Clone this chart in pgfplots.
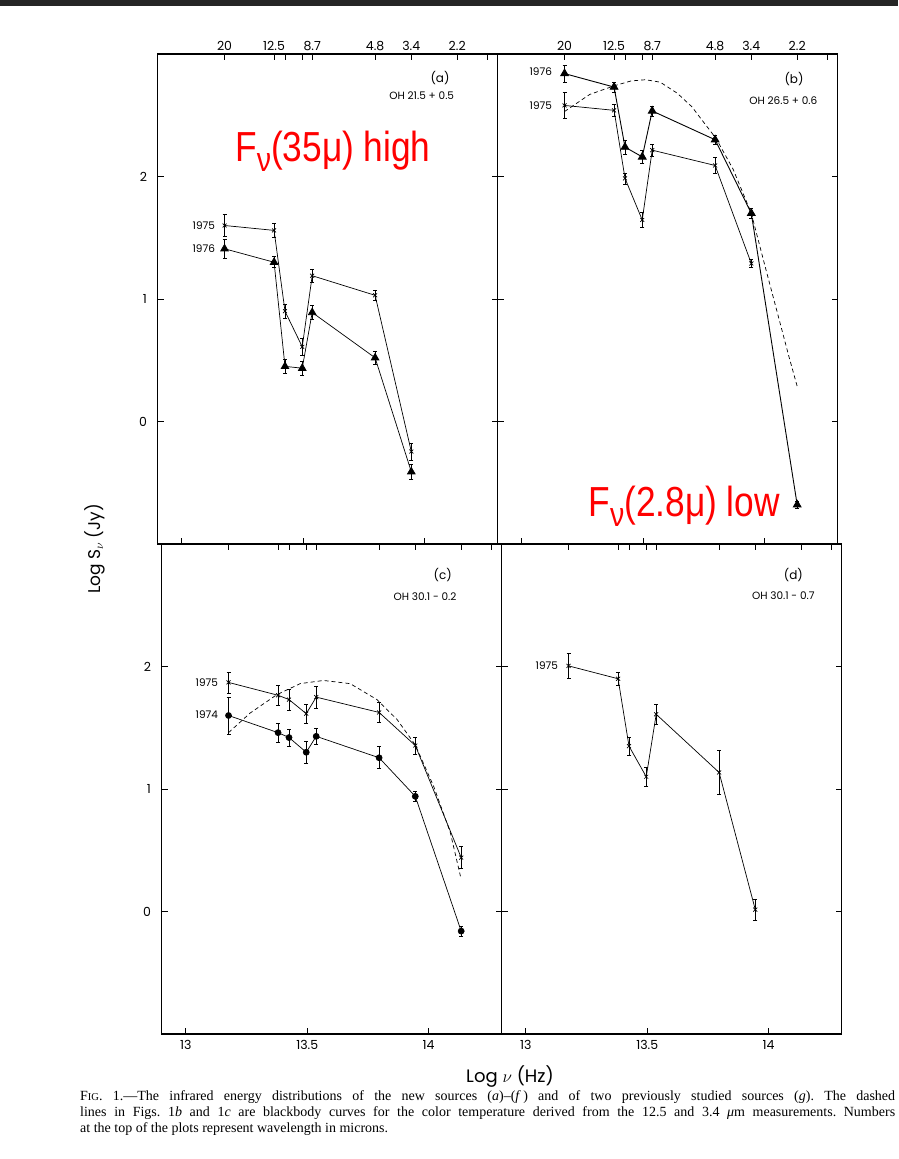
\documentclass[border=0pt]{standalone}
\usepackage{graphicx}
\usepackage{pgfplots}
\usepackage{pgfplotstable}
\pgfplotsset{compat=1.18}
\usepackage{fontspec}
\setmainfont{Poppins}
\newfontfamily\capfont[Ligatures=TeX]{Liberation Serif}
\newfontfamily\redfont{Liberation Sans}

% wavelength positions: 20, 12.5, 11.3, 9.6, 8.7, 4.8, 3.4, 2.2 micron -> log nu
\pgfplotstableread{
x y e
13.176 1.60 0.09
13.380 1.56 0.055
13.425 0.90 0.06
13.496 0.61 0.07
13.537 1.19 0.05
13.796 1.03 0.04
13.945 -0.245 0.07
}\Aseventyfive
\pgfplotstableread{
x y e
13.176 1.41 0.075
13.380 1.30 0.045
13.425 0.45 0.06
13.496 0.435 0.055
13.537 0.89 0.055
13.796 0.52 0.05
13.945 -0.41 0.06
}\Aseventysix
\pgfplotstableread{
x y e
13.176 2.84 0.07
13.380 2.73 0.04
13.425 2.24 0.055
13.496 2.16 0.05
13.537 2.535 0.04
13.796 2.30 0.04
13.945 1.70 0.04
14.134 -0.68 0.03
}\Bseventysix
\pgfplotstableread{
x y e
13.176 2.58 0.105
13.380 2.54 0.05
13.425 1.985 0.045
13.496 1.645 0.06
13.537 2.215 0.05
13.796 2.09 0.065
13.945 1.29 0.035
}\Bseventyfive
\pgfplotstableread{
x y
13.176 2.53
13.22 2.59
13.28 2.67
13.38 2.74
13.45 2.78
13.51 2.79
13.57 2.77
13.64 2.68
13.70 2.57
13.75 2.44
13.80 2.31
13.87 2.06
13.945 1.70
14.00 1.28
14.06 0.83
14.10 0.53
14.135 0.28
}\Bbb
\pgfplotstableread{
x y e
13.176 1.87 0.085
13.380 1.765 0.08
13.425 1.73 0.085
13.496 1.615 0.08
13.537 1.75 0.09
13.796 1.625 0.08
13.945 1.355 0.07
14.134 0.44 0.09
}\Cseventyfive
\pgfplotstableread{
x y e
13.176 1.60 0.15
13.380 1.46 0.075
13.425 1.42 0.07
13.496 1.30 0.09
13.537 1.43 0.065
13.796 1.255 0.09
13.945 0.94 0.04
14.134 -0.16 0.04
}\Cseventyfour
\pgfplotstableread{
x y
13.176 1.46
13.265 1.62
13.375 1.77
13.471 1.86
13.567 1.886
13.677 1.86
13.787 1.73
13.870 1.567
13.945 1.36
14.021 1.02
14.089 0.646
14.131 0.288
}\Cbb
\pgfplotstableread{
x y e
13.176 2.005 0.105
13.380 1.90 0.055
13.425 1.35 0.075
13.496 1.10 0.08
13.537 1.61 0.085
13.796 1.135 0.18
13.945 0.015 0.085
}\Dseventyfive

\newcommand\yrfont{\fontsize{10.5}{10.5}\selectfont}
\newcommand\tlfont{\fontsize{12.5}{12.5}\selectfont}

\pgfplotsset{
  frm/.style={scale only axis, width=340pt, height=490pt,
    xmin=12.90, xmax=14.30, ymin=-1, ymax=3, clip=false, anchor=south west},
  panel/.style={frm,
    tick align=inside, major tick length=6pt,
    axis line style={line width=1.3pt},
    tick style={line width=0.9pt, black},
    xtick={13,13.5,14}, xtick pos=left,
    ytick={0,1,2}, ytick pos=both,
    tick label style={font=\tlfont},
    yticklabel style={xshift=-7pt},
    xticklabel style={yshift=-3pt},
  },
  wave/.style={frm,
    tick align=inside, major tick length=6pt,
    axis line style={draw=none},
    tick style={line width=0.9pt, black},
    xtick={13.176,13.380,13.425,13.496,13.537,13.796,13.945,14.134,14.259},
    xtick pos=right, xticklabel pos=right,
    ytick=\empty,
    tick label style={font=\tlfont},
  },
  ser/.style={black, line width=0.7pt, mark options={solid},
    error bars/y dir=both, error bars/y explicit,
    error bars/error mark=-,
    error bars/error bar style={line width=0.6pt},
    error bars/error mark options={rotate=90, mark size=2pt, line width=0.6pt, black}},
  xm/.style={ser, mark=x, mark size=2.8pt},
  tri/.style={ser, mark=triangle*, mark size=4.4pt},
  dotm/.style={ser, mark=*, mark size=3pt},
  bb/.style={black, line width=0.7pt, dash pattern=on 4pt off 3pt, no marks},
}

\begin{document}
\begin{tikzpicture}[x=1pt,y=1pt]
\useasboundingbox (0pt,0pt) rectangle (898pt,1159pt);
\fill[black!85] (0pt,1153pt) rectangle (898pt,1159pt);

% ---------- (a)
\begin{axis}[panel, at={(157.5pt,615pt)}, xticklabels={,,}, yticklabels={0,1,2}]
\addplot[xm] table[x=x,y=y,y error=e]{\Aseventyfive};
\addplot[tri] table[x=x,y=y,y error=e]{\Aseventysix};
\node[anchor=east, font=\yrfont, xshift=-6pt] at (axis cs:13.176,1.60) {1975};
\node[anchor=east, font=\yrfont, xshift=-6pt] at (axis cs:13.176,1.41) {1976};
\end{axis}
\begin{axis}[wave, at={(157.5pt,615pt)}, xticklabels={20,12.5,,,8.7,4.8,3.4,2.2,}]
\end{axis}

% ---------- (b)
\begin{axis}[panel, at={(497.5pt,615pt)}, xticklabels={,,}, yticklabels={,,}]
\addplot[bb] table[x=x,y=y]{\Bbb};
\addplot[xm] table[x=x,y=y,y error=e]{\Bseventyfive};
\addplot[tri, line width=0.9pt] table[x=x,y=y,y error=e]{\Bseventysix};
\node[anchor=east, font=\yrfont, xshift=-9pt] at (axis cs:13.176,2.86) {1976};
\node[anchor=east, font=\yrfont, xshift=-9pt] at (axis cs:13.176,2.58) {1975};
\end{axis}
\begin{axis}[wave, at={(497.5pt,615pt)}, xticklabels={20,12.5,,,8.7,4.8,3.4,2.2,}]
\end{axis}

% ---------- (c)
\begin{axis}[panel, at={(161.5pt,125pt)}, xticklabels={13,13.5,14}, yticklabels={0,1,2}]
\addplot[bb] table[x=x,y=y]{\Cbb};
\addplot[xm] table[x=x,y=y,y error=e]{\Cseventyfive};
\addplot[dotm] table[x=x,y=y,y error=e]{\Cseventyfour};
\node[anchor=east, font=\yrfont, xshift=-7pt] at (axis cs:13.176,1.87) {1975};
\node[anchor=east, font=\yrfont, xshift=-7pt] at (axis cs:13.176,1.61) {1974};
\end{axis}
\begin{axis}[wave, at={(161.5pt,125pt)}, xticklabels={,,,,,,,,}]
\end{axis}

% ---------- (d)
\begin{axis}[panel, at={(501.5pt,125pt)}, xticklabels={13,13.5,14}, yticklabels={,,}]
\addplot[xm] table[x=x,y=y,y error=e]{\Dseventyfive};
\node[anchor=east, font=\yrfont, xshift=-7pt] at (axis cs:13.176,2.005) {1975};
\end{axis}
\begin{axis}[wave, at={(501.5pt,125pt)}, xticklabels={,,,,,,,,}]
\end{axis}

% panel labels
\node[font=\fontsize{12}{12}\selectfont] at (440pt,1081pt) {(a)};
\node[font=\fontsize{10.5}{10.5}\selectfont] at (421.7pt,1063.3pt) {OH 21.5 + 0.5};
\node[font=\fontsize{12}{12}\selectfont] at (794pt,1080pt) {(b)};
\node[font=\fontsize{10.5}{10.5}\selectfont] at (783.3pt,1058.5pt) {OH 26.5 + 0.6};
\node[font=\fontsize{12}{12}\selectfont] at (442.7pt,584pt) {(c)};
\node[font=\fontsize{10.5}{10.5}\selectfont] at (425pt,562.3pt) {OH 30.1 - 0.2};
\node[font=\fontsize{12}{12}\selectfont] at (793.3pt,584pt) {(d)};
\node[font=\fontsize{10.5}{10.5}\selectfont] at (783.3pt,563pt) {OH 30.1 - 0.7};

% axis titles
\node[rotate=90, font=\fontsize{17}{17}\selectfont] at (95pt,610pt) {Log S$_{\nu}$ (Jy)};
\node[font=\fontsize{18}{18}\selectfont] at (510pt,82pt) {Log $\nu$ (Hz)};

% red annotations
\node[anchor=base west, inner sep=0pt, text=red, font=\redfont\fontsize{42}{42}\selectfont]
  at (235pt,997.3pt) {\scalebox{0.84}[1]{F\raisebox{-10pt}{\fontsize{34}{34}\selectfont ν}(35μ) high}};
\node[anchor=base west, inner sep=0pt, text=red, font=\redfont\fontsize{42}{42}\selectfont]
  at (588.3pt,642.3pt) {\scalebox{0.84}[1]{F\raisebox{-10pt}{\fontsize{34}{34}\selectfont ν}(2.8μ) low}};

% caption
\frenchspacing
\begin{scope}[every node/.style={anchor=base west, inner sep=0pt, font=\capfont\fontsize{14}{16}\selectfont}]
\node at (80pt,58pt) {\makebox[815pt][s]{F{\fontsize{10.5}{10}\selectfont IG}. 1.—The infrared energy distributions of the new sources (\textit{a})–(\textit{f}\,) and of two previously studied sources (\textit{g}). The dashed}};
\node at (80pt,42pt) {\makebox[815pt][s]{lines in Figs. 1\textit{b} and 1\textit{c} are blackbody curves for the color temperature derived from the 12.5 and 3.4 \textit{μ}m measurements. Numbers}};
\node at (80pt,26pt) {at the top of the plots represent wavelength in microns.};
\end{scope}
\end{tikzpicture}
\end{document}
